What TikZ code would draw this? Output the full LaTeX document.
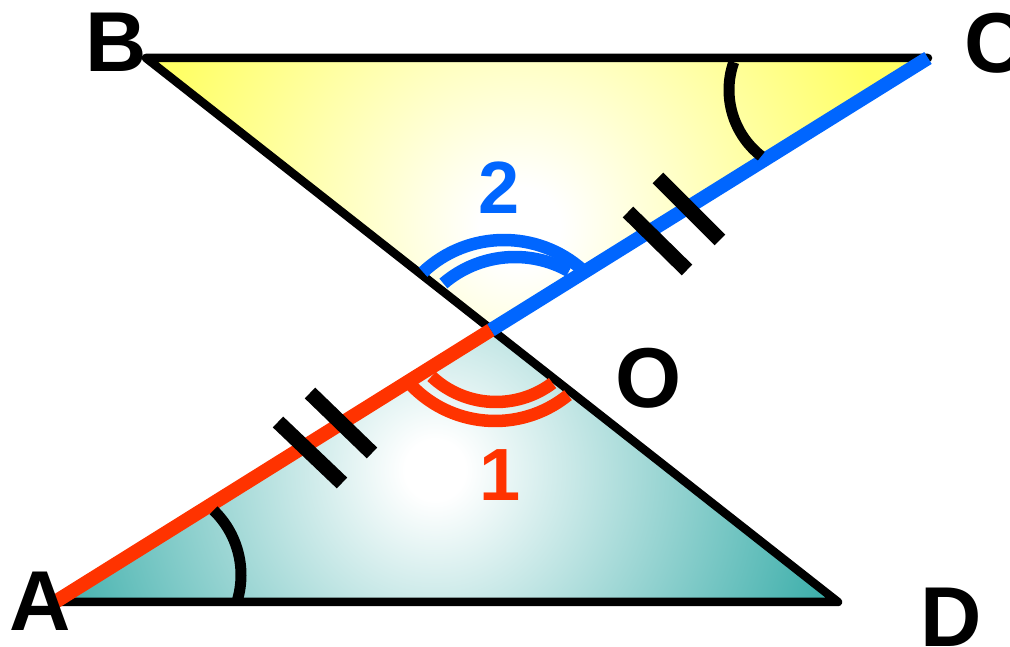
\documentclass[tikz,border=0pt]{standalone}
\usepackage{fontspec}
\setmainfont{Liberation Sans}
\definecolor{myblue}{RGB}{0,102,255}
\definecolor{myred}{RGB}{255,51,0}
\definecolor{myyel}{RGB}{255,255,100}
\definecolor{myteal}{RGB}{55,172,168}
\pgfdeclareradialshading{yelsh}{\pgfpoint{0bp}{0bp}}{color(0bp)=(white); color(2bp)=(white); color(19bp)=(myyel); color(50bp)=(myyel)}
\pgfdeclareradialshading{tealsh}{\pgfpoint{0bp}{0bp}}{color(0bp)=(white); color(1.5bp)=(white); color(21bp)=(myteal); color(50bp)=(myteal)}
\begin{document}
\begin{tikzpicture}[x=1pt,y=1pt,
  blk/.style={line width=8.5pt, black, line join=round, line cap=round},
  redseg/.style={line width=14pt, myred},
  blueseg/.style={line width=14pt, myblue},
  redarc/.style={line width=12.5pt, myred},
  bluearc/.style={line width=12.5pt, myblue},
  angmark/.style={line width=11pt, black},
  hashmark/.style={line width=15pt, black},
  lbl/.style={font=\fontsize{85}{85}\selectfont\bfseries, inner sep=0pt, text=black},
  num/.style={font=\fontsize{74}{74}\selectfont\bfseries, inner sep=0pt}]
\useasboundingbox (0,0) rectangle (1010,647);
\fill[white] (0,0) rectangle (1010,647);
\coordinate (A) at (55,45);
\coordinate (B) at (146,589);
\coordinate (C) at (928,589);
\coordinate (D) at (838,45);
\coordinate (O) at (491,317);
% fills
\begin{scope}
  \clip (B) -- (C) -- (O) -- cycle;
  \shade[shading=yelsh] (520,420) circle (500);
\end{scope}
\begin{scope}
  \clip (A) -- (O) -- (D) -- cycle;
  \shade[shading=tealsh] (435,177) circle (500);
\end{scope}
% black sides
\draw[blk] (C) -- (B) -- (D) -- (A);
% coloured sides
\draw[redseg] (A) -- (O);
\draw[blueseg] (O) -- (C);
% angle arcs at O
\draw[bluearc] (504,289) ++(48:118) arc[start angle=48, end angle=133.3, radius=118];
\draw[bluearc] (515,280) ++(60.6:110) arc[start angle=60.6, end angle=130.6, radius=110];
\draw[redarc] (495,342) ++(221:116) arc[start angle=221, end angle=309, radius=116];
\draw[redarc] (496,339) ++(226.7:94) arc[start angle=226.7, end angle=307, radius=94];
% angle marks at A and C
\draw[angmark] (151,72) ++(-16:90) arc[start angle=-16, end angle=46, radius=90];
\draw[angmark] (813,557) ++(160.7:84) arc[start angle=160.7, end angle=232, radius=84];
% equal-length ticks
\draw[hashmark] (628,435) -- (687,377);
\draw[hashmark] (658,469) -- (720,407);
\draw[hashmark] (278,225) -- (342,164);
\draw[hashmark] (310,254) -- (372,194);
% labels
\node[lbl] (lB) at (116.5,604.5) {B};
\node[lbl, anchor=west] (lC) at (964,603.5) {C};
\node[lbl] (lA) at (40,46) {A};
\node[lbl] (lD) at (951,29.5) {D};
\node[lbl] (lO) at (649,269) {O};
\node[num, text=myblue] (n2) at (499,459) {2};
\node[num, text=myred] (n1) at (500,172) {1};
\end{tikzpicture}
\end{document}
